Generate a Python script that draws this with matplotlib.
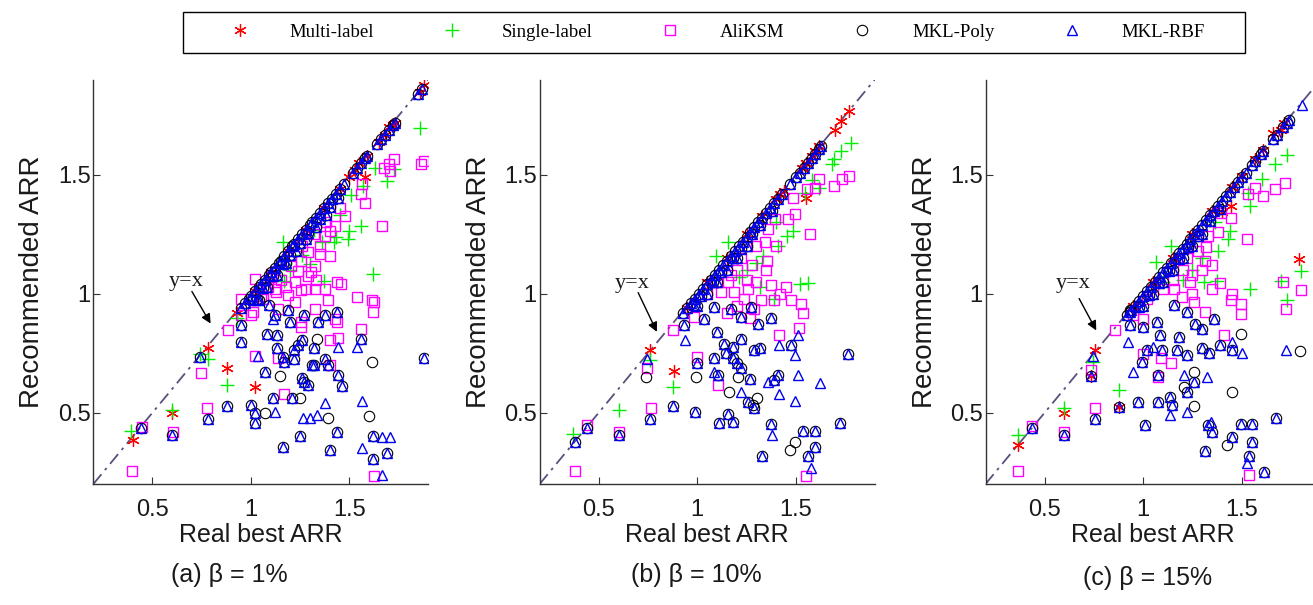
import matplotlib
matplotlib.use("Agg")
import matplotlib.pyplot as plt
from matplotlib.lines import Line2D
from matplotlib.patches import Rectangle

plt.rcParams['font.family'] = ['Liberation Sans', 'DejaVu Sans']

# ---------------- data ----------------
LIM = [0.2, 1.9]
TICKS = [0.5, 1, 1.5]
TICK_LABELS = ['0.5', '1', '1.5']
SERIES = ['Multi-label', 'Single-label', 'AliKSM', 'MKL-Poly', 'MKL-RBF']
CAPTIONS = ['(a) \u03b2 = 1%', '(b) \u03b2 = 10%', '(c) \u03b2 = 15%']

# panel (a)
STAR_A_X = [0.40, 0.60, 0.78, 0.88, 1.02, 0.93, 1.02, 1.10, 1.19, 1.28, 1.37, 1.45, 1.50, 1.53, 1.55, 1.58, 1.59, 1.65, 1.68, 1.70, 1.72, 1.73, 1.86, 1.88]
STAR_A_Y = [0.385, 0.50, 0.77, 0.686, 0.609, 0.92, 1.01, 1.09, 1.18, 1.27, 1.36, 1.44, 1.49, 1.52, 1.55, 1.49, 1.58, 1.64, 1.67, 1.70, 1.71, 1.72, 1.85, 1.88]
PLUS_A_X = [0.39, 0.60, 0.88, 0.78, 0.74, 0.93, 1.62, 1.86, 1.63, 1.69, 1.725, 1.57, 1.56, 1.49, 1.42, 1.16, 1.50, 1.43, 1.36, 1.51, 1.26, 1.30, 1.17, 1.32, 1.37, 1.45, 1.05, 1.20]
PLUS_A_Y = [0.424, 0.51, 0.616, 0.725, 0.745, 0.90, 1.084, 1.698, 1.531, 1.475, 1.524, 1.454, 1.286, 1.23, 1.216, 1.216, 1.265, 1.237, 1.22, 1.416, 1.162, 1.127, 1.055, 1.27, 1.056, 1.33, 1.04, 1.10]
SQ_A_X = [0.396, 0.745, 0.779, 0.605, 0.447, 0.881, 0.95, 1.009, 1.018, 1.166, 1.622, 1.537, 1.622, 1.617, 1.558, 1.444, 1.457, 1.435, 1.392, 1.324,
          1.256, 1.188, 1.128, 1.086, 1.222, 1.29, 1.324, 1.256, 1.018, 1.137, 1.401, 1.861, 1.878, 1.725, 1.699, 1.673, 1.707, 1.563, 1.559, 1.58,
          1.477, 1.452, 1.665, 1.426, 1.401, 1.375, 1.35, 1.401, 1.29, 1.256, 1.324, 1.205, 1.307, 1.239, 1.435, 1.614, 1.375, 1.12, 1.222, 1.137,
          1.256, 1.426, 1.401, 0.95, 1.0, 1.06, 1.15, 1.10, 1.18, 1.28, 1.33, 1.35, 1.26, 1.32, 1.38, 1.05]
SQ_A_Y = [0.256, 0.665, 0.518, 0.418, 0.441, 0.846, 0.909, 0.923, 0.739, 0.577, 0.232, 0.986, 0.965, 0.923, 0.85, 0.814, 1.042, 0.881, 0.972, 1.021,
          1.014, 0.993, 1.007, 1.028, 1.049, 1.077, 0.937, 0.86, 1.063, 0.728, 0.70, 1.545, 1.559, 1.565, 1.545, 1.531, 1.517, 1.461, 1.419, 1.384,
          1.328, 1.363, 1.286, 1.286, 1.265, 1.244, 1.167, 1.16, 1.174, 1.14, 1.119, 1.119, 1.091, 1.098, 1.049, 0.972, 1.021, 1.021, 0.965, 0.937,
          0.881, 0.895, 0.805, 0.979, 0.909, 0.98, 1.06, 1.07, 1.03, 1.02, 1.06, 1.20, 1.20, 1.25, 1.30, 0.99]
BOTH_A_X = [0.44, 0.60, 0.78, 0.88, 1.00, 1.02, 1.02, 1.16, 1.25, 1.40, 1.435, 1.62, 1.62, 1.69, 1.88, 1.07, 1.13, 1.16, 1.21, 1.27, 1.29, 1.26, 1.31, 1.375, 1.39,
            1.44, 1.46, 1.435, 1.375, 1.34, 1.27, 1.19, 1.20, 1.12, 1.09, 1.04, 1.08, 1.13, 1.17, 1.22, 1.24, 1.26, 1.32, 0.95, 0.95, 0.74, 1.32, 1.11, 1.22, 1.56]
BOTH_A_Y = [0.437, 0.406, 0.474, 0.529, 0.532, 0.497, 0.455, 0.355, 0.40, 0.341, 0.42, 0.40, 0.306, 0.33, 0.728, 0.672, 0.77, 0.735, 0.56, 0.63, 0.616, 0.644, 0.70, 0.727, 0.70,
            0.658, 0.613, 0.923, 0.909, 0.881, 0.909, 0.93, 0.881, 0.909, 0.951, 0.972, 0.832, 0.825, 0.714, 0.727, 0.783, 0.804, 0.77, 0.867, 0.797, 0.735, 0.70, 0.56, 0.762, 0.811]
TRI_A_X = [1.444, 1.537, 1.375, 1.563, 1.563, 1.665, 1.665, 1.708, 1.12, 1.265, 1.299, 1.333, 1.035, 1.111]
TRI_A_Y = [0.776, 0.776, 0.539, 0.549, 0.35, 0.239, 0.399, 0.399, 0.504, 0.476, 0.476, 0.49, 0.739, 0.895]
CIRC_A_X = [1.614, 1.597, 1.392, 1.145, 1.072, 1.333, 1.251]
CIRC_A_Y = [0.714, 0.486, 0.476, 0.655, 0.497, 0.811, 0.563]
BAND_A_X = [0.95, 0.97, 0.99, 1.00, 1.02, 1.04, 1.05, 1.07, 1.09, 1.10, 1.12, 1.14, 1.15, 1.17, 1.19, 1.21, 1.22, 1.24, 1.26, 1.28, 1.30, 1.31, 1.33, 1.35,
            1.37, 1.39, 1.41, 1.43, 1.45, 1.47, 1.52, 1.54, 1.56, 1.58, 1.59, 1.64, 1.66, 1.68, 1.70, 1.72, 1.73, 1.85, 1.87, 1.03, 1.08, 1.13, 1.18, 1.23, 1.28, 1.33, 1.38,
            1.01, 1.06, 1.11, 1.16, 1.20, 1.25, 1.29, 1.35, 1.40, 1.44]
BAND_A_Y = [0.94, 0.96, 0.98, 0.99, 1.01, 1.03, 1.04, 1.06, 1.08, 1.09, 1.11, 1.13, 1.14, 1.16, 1.18, 1.20, 1.21, 1.23, 1.25, 1.27, 1.29, 1.30, 1.32, 1.34,
            1.36, 1.38, 1.40, 1.42, 1.44, 1.46, 1.51, 1.53, 1.55, 1.57, 1.58, 1.63, 1.65, 1.67, 1.69, 1.71, 1.72, 1.84, 1.86, 0.98, 1.03, 1.08, 1.13, 1.18, 1.23, 1.28, 1.33,
            0.975, 1.025, 1.075, 1.125, 1.165, 1.215, 1.255, 1.315, 1.365, 1.405]

# panel (b)
STAR_B_X = [0.76, 0.88, 1.77, 1.73, 1.70, 1.62, 1.60, 1.58, 1.55, 1.53, 1.44, 1.42, 1.40, 1.55, 1.33, 1.25, 1.15, 1.05, 0.95]
STAR_B_Y = [0.762, 0.675, 1.768, 1.726, 1.691, 1.621, 1.60, 1.58, 1.55, 1.53, 1.433, 1.42, 1.40, 1.405, 1.328, 1.25, 1.15, 1.05, 0.94]
PLUS_B_X = [0.37, 0.604, 0.878, 0.759, 1.52, 1.563, 1.316, 1.392, 1.778, 1.727, 1.692, 1.684, 1.616, 1.548, 1.488, 1.454, 1.411, 1.335, 1.156, 1.096, 1.25, 1.30, 1.21, 1.40, 1.58]
PLUS_B_Y = [0.409, 0.511, 0.606, 0.72, 1.042, 1.046, 1.028, 0.979, 1.635, 1.60, 1.565, 1.545, 1.447, 1.426, 1.265, 1.244, 1.202, 1.16, 1.216, 1.16, 1.10, 1.13, 1.07, 1.30, 1.48]
SQ_B_X = [0.379, 0.745, 0.767, 0.604, 0.442, 0.878, 0.984, 0.997, 1.106, 1.415, 1.517, 1.537, 1.529, 1.478, 1.375, 1.392, 1.554, 1.256, 1.188, 1.12,
          1.154, 1.239, 1.324, 1.29, 1.769, 1.735, 1.692, 1.616, 1.599, 1.556, 1.488, 1.496, 1.462, 1.573, 1.394, 1.36, 1.343, 1.30, 1.352, 1.20,
          1.25, 1.22, 1.28, 1.17, 1.10, 1.05, 1.30, 1.42, 1.45, 1.27, 1.20, 1.15, 1.35, 1.40, 1.25]
SQ_B_Y = [0.255, 0.69, 0.518, 0.418, 0.448, 0.846, 0.902, 0.735, 0.616, 0.828, 0.856, 0.92, 0.958, 0.972, 1.035, 0.972, 0.232, 1.021, 1.007, 1.007,
          1.049, 0.979, 0.972, 0.937, 1.496, 1.482, 1.454, 1.482, 1.447, 1.44, 1.405, 1.335, 1.314, 1.251, 1.314, 1.272, 1.216, 1.202, 1.14, 1.10,
          1.06, 1.15, 1.12, 1.08, 1.05, 1.00, 1.05, 1.00, 1.03, 0.90, 0.95, 0.92, 1.10, 1.20, 1.20]
BOTH_B_X = [0.379, 0.442, 0.604, 0.762, 0.878, 0.989, 1.108, 1.18, 1.154, 1.329, 1.375, 1.537, 1.597, 1.597, 1.563, 1.725, 1.767, 0.997, 1.103, 1.086, 1.145, 1.18, 1.222,
            1.256, 1.29, 1.392, 1.41, 1.316, 1.29, 1.18, 1.222, 1.137, 1.10, 1.035, 0.933, 1.171, 1.222, 1.307, 1.375, 1.273, 1.086, 0.984, 1.478, 1.27, 1.20]
BOTH_B_Y = [0.376, 0.437, 0.406, 0.473, 0.528, 0.504, 0.455, 0.462, 0.493, 0.316, 0.451, 0.424, 0.424, 0.355, 0.316, 0.455, 0.746, 0.709, 0.658, 0.728, 0.749, 0.728, 0.686,
            0.546, 0.518, 0.637, 0.658, 0.77, 0.763, 0.777, 0.811, 0.79, 0.839, 0.895, 0.867, 0.937, 0.902, 0.874, 0.898, 0.944, 0.944, 0.951, 0.786, 0.64, 0.71]
TRI_B_X = [0.936, 1.413, 1.495, 1.512, 1.622, 1.413, 1.498, 1.381, 1.575, 1.358, 1.222, 1.086, 1.512, 0.745]
TRI_B_Y = [0.804, 0.786, 0.744, 0.66, 0.623, 0.577, 0.549, 0.406, 0.267, 0.63, 0.588, 0.672, 0.825, 0.725]
CIRC_B_X = [0.992, 1.205, 1.163, 1.304, 1.469, 1.495, 0.742, 1.282]
CIRC_B_Y = [0.651, 0.651, 0.588, 0.56, 0.343, 0.378, 0.651, 0.532]
BAND_B_X = [0.93, 0.95, 0.97, 0.99, 1.01, 1.03, 1.05, 1.07, 1.09, 1.11, 1.13, 1.15, 1.17, 1.19, 1.21, 1.23, 1.25, 1.27, 1.29, 1.31, 1.33, 1.35,
            1.37, 1.39, 1.41, 1.43, 1.47, 1.50, 1.52, 1.54, 1.56, 1.58, 1.60, 1.62, 1.63, 1.00, 1.05, 1.10, 1.15, 1.20, 1.25,
            1.02, 1.08, 1.12, 1.18, 1.22, 1.28, 1.32, 1.38]
BAND_B_Y = [0.92, 0.94, 0.96, 0.98, 1.00, 1.02, 1.04, 1.06, 1.08, 1.10, 1.12, 1.14, 1.16, 1.18, 1.20, 1.22, 1.24, 1.26, 1.28, 1.30, 1.32, 1.34,
            1.36, 1.38, 1.40, 1.42, 1.46, 1.49, 1.51, 1.53, 1.55, 1.57, 1.59, 1.61, 1.62, 0.95, 1.00, 1.05, 1.10, 1.15, 1.20,
            0.99, 1.05, 1.09, 1.15, 1.19, 1.25, 1.29, 1.35]

# panel (c)
STAR_C_X = [0.367, 0.597, 0.754, 0.737, 0.878, 1.789, 1.713, 1.70, 1.66, 1.61, 1.568, 1.50, 1.448, 1.40, 1.45, 1.35, 1.25, 1.15, 1.05, 0.95]
STAR_C_Y = [0.365, 0.497, 0.762, 0.655, 0.525, 1.147, 1.719, 1.69, 1.677, 1.607, 1.565, 1.496, 1.37, 1.343, 1.45, 1.35, 1.25, 1.15, 1.05, 0.95]
PLUS_C_X = [0.367, 0.597, 0.878, 0.745, 1.542, 1.728, 1.699, 1.801, 1.307, 1.375, 1.73, 1.67, 1.602, 1.534, 1.542, 1.44, 1.431, 1.142, 1.065, 1.363, 1.25, 1.30, 1.20, 1.38, 1.10]
PLUS_C_Y = [0.406, 0.518, 0.595, 0.714, 1.021, 0.972, 1.056, 1.098, 1.049, 1.056, 1.586, 1.545, 1.482, 1.426, 1.37, 1.265, 1.23, 1.202, 1.133, 1.30, 1.10, 1.15, 1.06, 1.18, 1.05]
SQ_C_X = [0.367, 0.435, 0.597, 0.754, 0.737, 0.856, 0.95, 1.0, 1.089, 1.077, 1.142, 1.537, 1.41, 1.498, 1.498, 1.447, 1.392, 1.35, 1.708, 1.725,
          1.801, 1.316, 1.256, 1.197, 1.154, 1.239, 1.0, 1.018, 1.721, 1.67, 1.61, 1.568, 1.534, 1.448, 1.397, 1.525, 1.38, 1.329, 1.321, 1.312,
          1.20, 1.25, 1.15, 1.28, 1.22, 1.10, 1.30, 1.35, 1.45, 1.25]
SQ_C_Y = [0.256, 0.445, 0.42, 0.518, 0.679, 0.846, 0.909, 0.748, 0.728, 0.651, 0.707, 0.239, 0.828, 0.916, 0.958, 0.976, 1.046, 1.021, 1.049, 0.937,
          1.018, 0.923, 0.965, 0.986, 1.021, 1.049, 0.895, 0.979, 1.468, 1.44, 1.412, 1.447, 1.419, 1.321, 1.342, 1.23, 1.258, 1.244, 1.195, 1.14,
          1.10, 1.08, 1.06, 1.18, 1.15, 1.02, 1.10, 1.12, 1.00, 1.00]
BOTH_C_X = [0.435, 0.597, 0.754, 0.878, 0.975, 1.077, 1.134, 1.145, 1.009, 1.316, 1.328, 1.35, 1.452, 1.495, 1.554, 1.554, 1.537, 1.611, 1.674, 1.077, 0.992, 1.018,
            1.094, 1.171, 1.222, 1.299, 1.333, 1.392, 1.452, 1.256, 1.222, 0.933, 0.933, 1.0, 1.069, 1.086, 1.154, 1.222, 1.265, 1.358, 0.737, 1.18, 1.30]
BOTH_C_Y = [0.437, 0.406, 0.473, 0.525, 0.546, 0.546, 0.567, 0.532, 0.448, 0.339, 0.448, 0.42, 0.399, 0.451, 0.451, 0.376, 0.316, 0.25, 0.476, 0.66, 0.714, 0.762,
            0.762, 0.762, 0.742, 0.77, 0.749, 0.783, 0.762, 0.63, 0.588, 0.867, 0.923, 0.86, 0.881, 0.825, 0.951, 0.923, 0.874, 0.895, 0.655, 0.82, 0.85]
TRI_C_X = [1.725, 0.924, 0.95, 1.205, 1.324, 1.452, 1.503, 1.137, 1.222, 1.529, 1.345, 1.052, 0.745, 1.806]
TRI_C_Y = [0.762, 0.797, 0.672, 0.658, 0.651, 0.797, 0.749, 0.49, 0.504, 0.288, 0.462, 0.776, 0.74, 1.796]
CIRC_C_X = [1.798, 1.498, 1.449, 1.256, 1.423, 1.256, 1.205, 0.933]
CIRC_C_Y = [0.758, 0.832, 0.585, 0.528, 0.362, 0.672, 0.609, 0.93]
BAND_C_X = [0.92, 0.94, 0.96, 0.98, 1.00, 1.02, 1.04, 1.06, 1.08, 1.10, 1.12, 1.14, 1.16, 1.18, 1.20, 1.22, 1.24, 1.26, 1.28, 1.30, 1.32, 1.34, 1.36,
            1.38, 1.40, 1.42, 1.44, 1.46, 1.48, 1.50, 1.52, 1.55, 1.57, 1.60, 1.61, 1.66, 1.68, 1.71, 1.73, 1.74, 1.00, 1.05, 1.10, 1.15, 1.20, 1.25, 1.30,
            0.98, 1.03, 1.08, 1.13, 1.18, 1.23, 1.28, 1.34, 1.39]
BAND_C_Y = [0.91, 0.93, 0.95, 0.97, 0.99, 1.01, 1.03, 1.05, 1.07, 1.09, 1.11, 1.13, 1.15, 1.17, 1.19, 1.21, 1.23, 1.25, 1.27, 1.29, 1.31, 1.33, 1.35,
            1.37, 1.39, 1.41, 1.43, 1.45, 1.47, 1.49, 1.51, 1.54, 1.56, 1.59, 1.60, 1.65, 1.67, 1.70, 1.72, 1.73, 0.95, 1.00, 1.05, 1.10, 1.15, 1.20, 1.25,
            0.945, 0.995, 1.045, 1.095, 1.145, 1.195, 1.245, 1.305, 1.355]

PANELS = [
    (STAR_A_X, STAR_A_Y, PLUS_A_X, PLUS_A_Y, SQ_A_X, SQ_A_Y, BOTH_A_X, BOTH_A_Y, TRI_A_X, TRI_A_Y, CIRC_A_X, CIRC_A_Y, BAND_A_X, BAND_A_Y),
    (STAR_B_X, STAR_B_Y, PLUS_B_X, PLUS_B_Y, SQ_B_X, SQ_B_Y, BOTH_B_X, BOTH_B_Y, TRI_B_X, TRI_B_Y, CIRC_B_X, CIRC_B_Y, BAND_B_X, BAND_B_Y),
    (STAR_C_X, STAR_C_Y, PLUS_C_X, PLUS_C_Y, SQ_C_X, SQ_C_Y, BOTH_C_X, BOTH_C_Y, TRI_C_X, TRI_C_Y, CIRC_C_X, CIRC_C_Y, BAND_C_X, BAND_C_Y),
]

# y=x annotation: text position, arrow tail, arrow head (data coords)
NOTE_TEXT = [(0.67, 1.05), (0.67, 1.045), (0.645, 1.045)]
NOTE_TAIL = [(0.70, 1.01), (0.70, 1.005), (0.675, 0.98)]
NOTE_HEAD = [(0.795, 0.875), (0.795, 0.84), (0.762, 0.846)]

# ---------------- styling ----------------
STYLES = [
    dict(marker=(6, 2, 0), color='red', ms=9, mew=0.9),
    dict(marker='+', color='#00ee00', ms=9.5, mew=1.0),
    dict(marker='s', color='#ff00ff', ms=7.5, mew=1.0),
    dict(marker='o', color='black', ms=7.5, mew=0.8),
    dict(marker='^', color='#0000ee', ms=7.8, mew=1.0),
]
AX_LEFT = [0.0711, 0.4110, 0.7506]
AX_BOTTOM, AX_W, AX_H = 0.2, 0.2551, 0.668
CAP_POS = [(0.1744, 0.049), (0.530, 0.049), (0.874, 0.044)]
AXCOL = '#333333'
TXTCOL = '#1a1a1a'


def mk(ax, xs, ys, st):
    ax.plot(xs, ys, linestyle='none', marker=st['marker'], ms=st['ms'],
            mew=st['mew'], mec=st['color'], mfc='none', color=st['color'])


fig = plt.figure(figsize=(13.13, 6.05), dpi=100)

for i, p in enumerate(PANELS):
    (sx, sy, px, py, qx, qy, bx, by, tx, ty, cx, cy, dx, dy) = p
    ax = fig.add_axes([AX_LEFT[i], AX_BOTTOM, AX_W, AX_H])
    ax.plot(LIM, LIM, color='#5b4f7d', lw=1.3, linestyle=(0, (7, 3, 1.5, 3)), zorder=1)
    mk(ax, sx, sy, STYLES[0])
    mk(ax, px, py, STYLES[1])
    mk(ax, qx, qy, STYLES[2])
    mk(ax, bx + cx + dx, by + cy + dy, STYLES[3])
    mk(ax, bx + tx + dx, by + ty + dy, STYLES[4])

    ax.set_xlim(LIM)
    ax.set_ylim(LIM)
    ax.set_xticks(TICKS)
    ax.set_xticklabels(TICK_LABELS)
    ax.set_yticks(TICKS)
    ax.set_yticklabels(TICK_LABELS)
    for s in ['top', 'right']:
        ax.spines[s].set_visible(False)
    for s in ['left', 'bottom']:
        ax.spines[s].set_color(AXCOL)
        ax.spines[s].set_linewidth(1.0)
    ax.tick_params(axis='both', direction='in', length=5, color=AXCOL,
                   labelsize=17, labelcolor=TXTCOL)
    ax.tick_params(axis='x', pad=11)
    ax.tick_params(axis='y', pad=2)
    ax.set_xlabel('Real best ARR', fontsize=18, color=TXTCOL, labelpad=1)
    ax.set_ylabel('Recommended ARR', fontsize=20, color=TXTCOL, labelpad=9)

    ax.annotate('', xy=NOTE_HEAD[i], xytext=NOTE_TAIL[i],
                arrowprops=dict(arrowstyle='-|>', color='black', lw=1.0,
                                mutation_scale=14, shrinkA=0, shrinkB=0))
    ax.text(NOTE_TEXT[i][0], NOTE_TEXT[i][1], 'y=x', family='Liberation Serif',
            fontsize=16, ha='center', va='center', color=TXTCOL)

    fig.text(CAP_POS[i][0], CAP_POS[i][1], CAPTIONS[i], fontsize=18,
             ha='center', va='center', color=TXTCOL)

# legend: entries without frame, box drawn around them
handles = [Line2D([], [], linestyle='none', marker=st['marker'], ms=st['ms'],
                  mew=st['mew'], mec=st['color'], mfc='none') for st in STYLES]
fig.legend(handles, SERIES, loc='center left', ncol=5,
           bbox_to_anchor=(0.1685, 0.9463), borderaxespad=0, borderpad=0,
           frameon=False, handlelength=2.0, handletextpad=1.65,
           columnspacing=3.15, prop={'family': 'Liberation Serif', 'size': 13.5})
fig.add_artist(Rectangle((183 / 1313, (605 - 53) / 605), (1245 - 183) / 1313, 41 / 605,
                         transform=fig.transFigure, fill=False, edgecolor='black', lw=1.0))

fig.savefig('out.png', dpi=100)
